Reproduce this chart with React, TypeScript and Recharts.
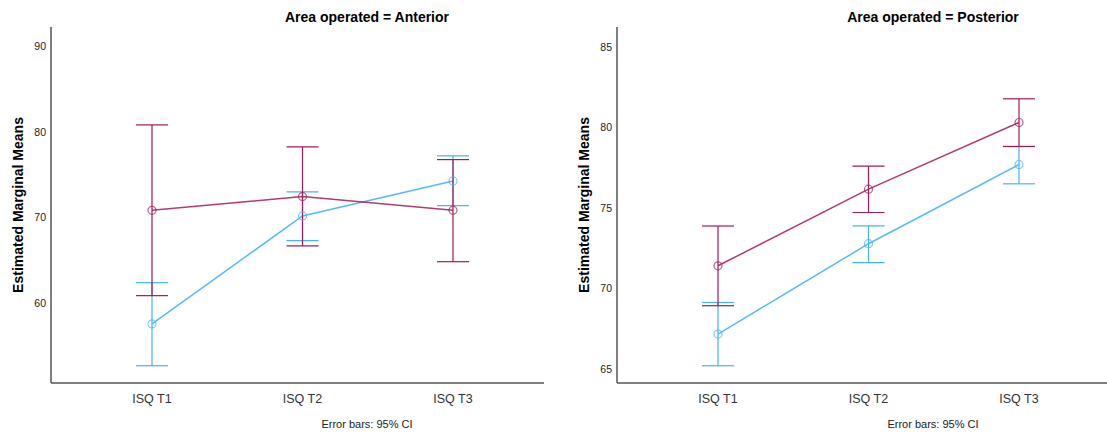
import { LineChart, Line, XAxis, YAxis, ErrorBar } from "recharts";

const categories = ["ISQ T1", "ISQ T2", "ISQ T3"];

// Area operated = Anterior
const antRedMean = [70.85, 72.46, 70.85];
const antRedLow = [60.88, 66.69, 64.85];
const antRedHigh = [80.84, 78.27, 76.78];
const antBlueMean = [57.57, 70.2, 74.29];
const antBlueLow = [52.69, 67.31, 71.4];
const antBlueHigh = [62.4, 73.0, 77.22];
const antTicks = [60, 70, 80, 90];

// Area operated = Posterior
const postRedMean = [71.41, 76.17, 80.31];
const postRedLow = [68.93, 74.72, 78.82];
const postRedHigh = [73.88, 77.6, 81.78];
const postBlueMean = [67.17, 72.78, 77.7];
const postBlueLow = [65.2, 71.61, 76.5];
const postBlueHigh = [69.13, 73.89, 78.82];
const postTicks = [65, 70, 75, 80, 85];

const RED = "#A3195B";
const BLUE = "#45B4F2";
const FONT = "'Liberation Sans', Arial, sans-serif";

// ErrorBar wants offsets [below, above] from the mean
const buildRows = (
  redMean: number[],
  redLow: number[],
  redHigh: number[],
  blueMean: number[],
  blueLow: number[],
  blueHigh: number[]
) =>
  categories.map((name, i) => ({
    name,
    red: redMean[i],
    redErr: [redMean[i] - redLow[i], redHigh[i] - redMean[i]],
    blue: blueMean[i],
    blueErr: [blueMean[i] - blueLow[i], blueHigh[i] - blueMean[i]],
  }));

type PanelProps = {
  left: number;
  width: number;
  title: string;
  rows: any[];
  domain: [number, number];
  ticks: number[];
  padRight: number;
};

const Panel = ({ left, width, title, rows, domain, ticks, padRight }: PanelProps) => (
  <div style={{ position: "absolute", left, top: 0, width, height: 432 }}>
    <LineChart
      width={width}
      height={432}
      data={rows}
      margin={{ top: 27, right: 0, bottom: 19, left: 0 }}
    >
      <XAxis
        dataKey="name"
        height={30}
        padding={{ left: 101, right: padRight }}
        axisLine={{ stroke: "#555", strokeWidth: 1.5 }}
        tickLine={false}
        tickSize={6}
        tickMargin={5}
        tick={{ fill: "#333", fontSize: 12.5, fontFamily: FONT }}
      />
      <YAxis
        type="number"
        width={51}
        domain={domain}
        ticks={ticks}
        allowDataOverflow
        axisLine={{ stroke: "#555", strokeWidth: 1.5 }}
        tickLine={false}
        tickSize={0}
        tickMargin={5}
        tick={{ fill: "#222", fontSize: 10.5, fontFamily: FONT }}
        label={{
          value: "Estimated Marginal Means",
          angle: -90,
          position: "insideLeft",
          offset: 18,
          style: {
            textAnchor: "middle",
            fontSize: 14,
            fontWeight: "bold",
            fill: "#000",
            fontFamily: FONT,
          },
        }}
      />
      <Line
        dataKey="blue"
        stroke={BLUE}
        strokeWidth={1.5}
        strokeOpacity={0.9}
        dot={{ r: 4, fill: "none", stroke: BLUE, strokeWidth: 1.2, strokeOpacity: 0.7 }}
        activeDot={false}
        isAnimationActive={false}
      >
        <ErrorBar dataKey="blueErr" width={16} stroke={BLUE} strokeWidth={1.2} />
      </Line>
      <Line
        dataKey="red"
        stroke={RED}
        strokeWidth={1.5}
        strokeOpacity={0.85}
        dot={{ r: 4, fill: "none", stroke: RED, strokeWidth: 1.2, strokeOpacity: 0.7 }}
        activeDot={false}
        isAnimationActive={false}
      >
        <ErrorBar dataKey="redErr" width={16} stroke={RED} strokeWidth={1.2} />
      </Line>
    </LineChart>
    <div
      style={{
        position: "absolute",
        left: 0,
        width: 734,
        top: 9,
        textAlign: "center",
        fontFamily: FONT,
        fontSize: 14,
        fontWeight: "bold",
        lineHeight: "16px",
        color: "#000",
      }}
    >
      {title}
    </div>
    <div
      style={{
        position: "absolute",
        left: 0,
        width: 734,
        top: 418,
        textAlign: "center",
        fontFamily: FONT,
        fontSize: 11,
        lineHeight: "13px",
        color: "#222",
      }}
    >
      Error bars: 95% CI
    </div>
  </div>
);

export default function App() {
  const antRows = buildRows(antRedMean, antRedLow, antRedHigh, antBlueMean, antBlueLow, antBlueHigh);
  const postRows = buildRows(postRedMean, postRedLow, postRedHigh, postBlueMean, postBlueLow, postBlueHigh);

  return (
    <div
      style={{
        position: "absolute",
        left: 0,
        top: 0,
        width: 1107,
        height: 432,
        overflow: "hidden",
        background: "#fff",
      }}
    >
      <Panel
        left={0}
        width={544}
        title="Area operated = Anterior"
        rows={antRows}
        domain={[50.67, 92.28]}
        ticks={antTicks}
        padRight={91}
      />
      <Panel
        left={566}
        width={541}
        title="Area operated = Posterior"
        rows={postRows}
        domain={[64.13, 86.24]}
        ticks={postTicks}
        padRight={88}
      />
    </div>
  );
}
